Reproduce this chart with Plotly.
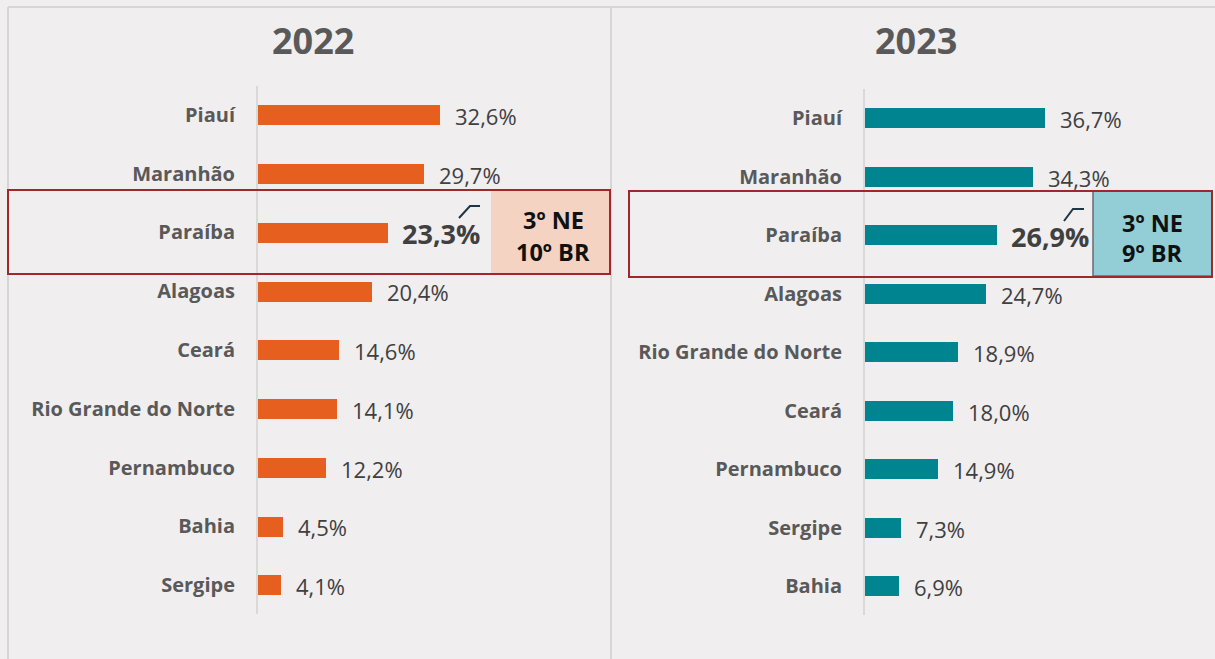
import plotly.graph_objects as go

W, H = 1215, 659

states_2022 = ["Piauí", "Maranhão", "Paraíba", "Alagoas", "Ceará",
               "Rio Grande do Norte", "Pernambuco", "Bahia", "Sergipe"]
values_2022 = [32.6, 29.7, 23.3, 20.4, 14.6, 14.1, 12.2, 4.5, 4.1]

states_2023 = ["Piauí", "Maranhão", "Paraíba", "Alagoas", "Rio Grande do Norte",
               "Ceará", "Pernambuco", "Sergipe", "Bahia"]
values_2023 = [36.7, 34.3, 26.9, 24.7, 18.9, 18.0, 14.9, 7.3, 6.9]

titles = ["2022", "2023"]
rank_2022 = ["3º NE", "10º BR"]
rank_2023 = ["3º NE", "9º BR"]
highlight = "Paraíba"

ORANGE = "#E65F1F"
TEAL = "#00848F"
BG = "#F0EEEF"
FONT = "Open Sans"


def px(x):
    return x / W


def py(y):
    return 1 - y / H


def fmt(v):
    return f"{v:.1f}".replace(".", ",") + "%"


fig = go.Figure()

fig.add_trace(go.Bar(x=values_2022, y=states_2022, orientation="h",
                     marker=dict(color=ORANGE, line=dict(width=0)), width=0.34,
                     xaxis="x", yaxis="y", hoverinfo="skip"))
fig.add_trace(go.Bar(x=values_2023, y=states_2023, orientation="h",
                     marker=dict(color=TEAL, line=dict(width=0)), width=0.34,
                     xaxis="x2", yaxis="y2", hoverinfo="skip"))

annotations = []
for states, values, xr, yr in [(states_2022, values_2022, "x", "y"),
                               (states_2023, values_2023, "x2", "y2")]:
    for s, v in zip(states, values):
        if s == highlight:
            font = dict(family=FONT, size=27, color="#404040", weight="bold")
            shift = 12
        else:
            font = dict(family=FONT, size=22, color="#404040")
            shift = 13
        annotations.append(dict(x=v, y=s, xref=xr, yref=yr, text=fmt(v),
                                showarrow=False, xanchor="left", yanchor="middle",
                                xshift=shift, yshift=-1, font=font))

# titles
for t, cx in zip(titles, [313, 916]):
    annotations.append(dict(x=px(cx), y=py(40), xref="paper", yref="paper", text=t,
                            showarrow=False, xanchor="center", yanchor="middle",
                            font=dict(family=FONT, size=36, color="#595959", weight="bold")))

# rank boxes text
for lines, cx, ys in [(rank_2022, 553, [220, 252]), (rank_2023, 1152, [223, 253])]:
    for ln, yy in zip(lines, ys):
        annotations.append(dict(x=px(cx), y=py(yy), xref="paper", yref="paper", text=ln,
                                showarrow=False, xanchor="center", yanchor="middle",
                                font=dict(family=FONT, size=23.5, color="#111111", weight="bold")))

shapes = []
# frame lines
shapes.append(dict(type="line", xref="paper", yref="paper", x0=px(8), x1=px(1215), y0=py(7), y1=py(7),
                   line=dict(color="#D6D6D6", width=2), layer="below"))
shapes.append(dict(type="line", xref="paper", yref="paper", x0=px(8), x1=px(8), y0=py(7), y1=py(659),
                   line=dict(color="#D6D6D6", width=2), layer="below"))
shapes.append(dict(type="line", xref="paper", yref="paper", x0=px(611), x1=px(611), y0=py(7), y1=py(659),
                   line=dict(color="#D6D6D6", width=2), layer="below"))
# rank fill boxes
shapes.append(dict(type="rect", xref="paper", yref="paper", x0=px(491), x1=px(610), y0=py(274), y1=py(190),
                   fillcolor="#F4D3C2", line=dict(width=0), layer="below"))
shapes.append(dict(type="rect", xref="paper", yref="paper", x0=px(1093), x1=px(1212), y0=py(276), y1=py(191),
                   fillcolor="#93CED6", line=dict(color="#6B6B6B", width=1.5), layer="below"))
# highlight outlines
shapes.append(dict(type="rect", xref="paper", yref="paper", x0=px(8), x1=px(610), y0=py(274), y1=py(190),
                   line=dict(color="#A0282C", width=2)))
shapes.append(dict(type="rect", xref="paper", yref="paper", x0=px(629), x1=px(1212), y0=py(277), y1=py(191),
                   line=dict(color="#A0282C", width=2)))
# hook marks
for pts in [[(459, 218), (470, 206), (480, 206)], [(1064, 221), (1073, 209), (1084, 209)]]:
    path = "M {} {} L {} {} L {} {}".format(px(pts[0][0]), py(pts[0][1]), px(pts[1][0]), py(pts[1][1]),
                                            px(pts[2][0]), py(pts[2][1]))
    shapes.append(dict(type="path", xref="paper", yref="paper", path=path,
                       line=dict(color="#1D3546", width=2)))

axis_common = dict(showgrid=False, zeroline=False, ticks="", showline=True,
                   linecolor="#D9D9D9", linewidth=2,
                   tickfont=dict(family=FONT, size=20, color="#595959", weight="bold"),
                   ticklabelstandoff=17, fixedrange=True)

fig.update_layout(
    width=W, height=H,
    margin=dict(l=0, r=0, t=0, b=0),
    paper_bgcolor=BG, plot_bgcolor="rgba(0,0,0,0)",
    showlegend=False, bargap=0,
    xaxis=dict(domain=[px(258), px(258 + 5.58 * 40)], range=[0, 40], visible=False, anchor="y"),
    yaxis=dict(domain=[py(614.4), py(85.6)], anchor="x", categoryorder="array",
               categoryarray=states_2022, range=[8.5, -0.5], **axis_common),
    xaxis2=dict(domain=[px(865), px(865 + 4.9 * 40)], range=[0, 40], visible=False, anchor="y2"),
    yaxis2=dict(domain=[py(615.25), py(88.75)], anchor="x2", categoryorder="array",
                categoryarray=states_2023, range=[8.5, -0.5], **axis_common),
    annotations=annotations,
    shapes=shapes,
)

fig.write_html("out.html", config={"displayModeBar": False},
               post_script="document.body.style.margin='0';document.body.style.padding='0';")
